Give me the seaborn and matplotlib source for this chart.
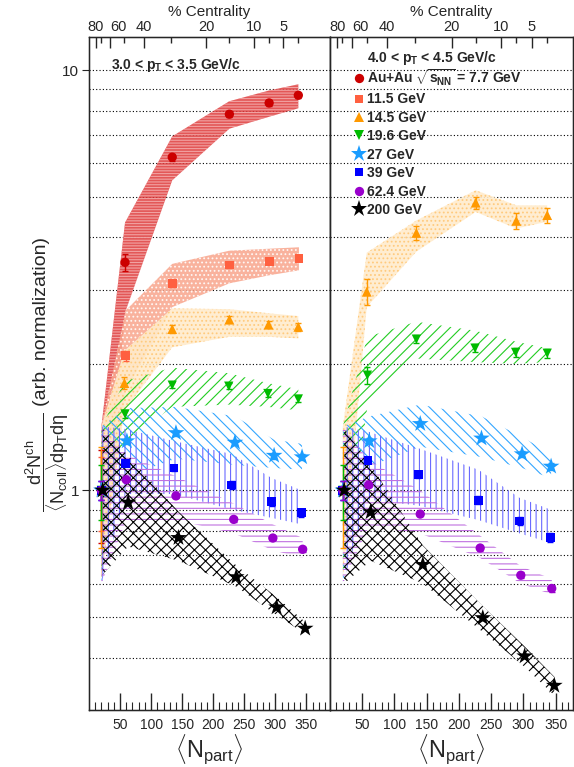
import numpy as np
import pandas as pd
import matplotlib.pyplot as plt
import seaborn as sns
from matplotlib.lines import Line2D
from matplotlib.ticker import NullFormatter, NullLocator

sns.set_style('ticks')
plt.rcParams['font.family'] = ['Liberation Sans', 'DejaVu Sans']
plt.rcParams['mathtext.fontset'] = 'custom'
plt.rcParams['mathtext.rm'] = 'Liberation Sans'
plt.rcParams['mathtext.it'] = 'Liberation Sans'
plt.rcParams['mathtext.bf'] = 'Liberation Sans:bold'
plt.rcParams['hatch.linewidth'] = 0.8

# energies (GeV) and <Npart> of the centrality bins
energies = ['7.7', '11.5', '14.5', '19.6', '27', '39', '62.4', '200']
npart = {
    '7.7':  [20, 58, 134, 226, 290, 337],
    '11.5': [20, 59, 134, 226, 290, 338],
    '14.5': [20, 57, 134, 226, 289, 337],
    '19.6': [20, 58, 134, 225, 288, 337],
    '27':   [20, 61, 140, 235, 298, 343],
    '39':   [20, 59, 137, 230, 294, 342],
    '62.4': [20, 60, 140, 233, 296, 344],
    '200':  [22, 63, 144, 237, 302, 348],
}

# left panel: 3.0 < pT < 3.5 GeV/c
left_val = {
    '7.7':  [1.0, 3.49, 6.21, 7.86, 8.36, 8.72],
    '11.5': [1.0, 2.09, 3.11, 3.44, 3.51, 3.57],
    '14.5': [1.0, 1.80, 2.42, 2.55, 2.48, 2.45],
    '19.6': [1.0, 1.52, 1.78, 1.77, 1.70, 1.65],
    '27':   [1.0, 1.31, 1.37, 1.30, 1.21, 1.20],
    '39':   [1.0, 1.16, 1.13, 1.03, 0.94, 0.885],
    '62.4': [1.0, 1.06, 0.97, 0.853, 0.77, 0.724],
    '200':  [1.0, 0.936, 0.771, 0.622, 0.527, 0.469],
}
left_lo = {
    '7.7':  [0.62, 2.65, 5.47, 7.26, 7.75, 8.12],
    '11.5': [0.62, 1.72, 2.73, 3.11, 3.25, 3.34],
    '14.5': [0.62, 1.55, 2.19, 2.32, 2.32, 2.30],
    '19.6': [0.62, 1.30, 1.58, 1.60, 1.58, 1.55],
    '27':   [0.60, 1.08, 1.19, 1.15, 1.13, 1.12],
    '39':   [0.60, 0.98, 0.98, 0.90, 0.86, 0.83],
    '62.4': [0.60, 0.85, 0.85, 0.79, 0.72, 0.69],
    '200':  [0.63, 0.735, 0.68, 0.59, 0.505, 0.455],
}
left_hi = {
    '7.7':  [1.42, 4.34, 6.96, 8.44, 8.95, 9.26],
    '11.5': [1.42, 2.68, 3.46, 3.72, 3.76, 3.79],
    '14.5': [1.42, 2.15, 2.71, 2.70, 2.64, 2.60],
    '19.6': [1.42, 1.82, 1.96, 1.90, 1.80, 1.74],
    '27':   [1.42, 1.57, 1.58, 1.50, 1.32, 1.29],
    '39':   [1.42, 1.40, 1.31, 1.22, 1.07, 1.00],
    '62.4': [1.42, 1.22, 1.08, 0.93, 0.83, 0.77],
    '200':  [1.40, 1.21, 0.89, 0.663, 0.557, 0.486],
}
left_err = {
    '7.7':  [0.25, 0.16, 0.12, 0.12, 0.12, 0.12],
    '11.5': [0.20, 0.06, 0.06, 0.05, 0.05, 0.05],
    '14.5': [0.27, 0.06, 0.05, 0.05, 0.05, 0.05],
    '19.6': [0.15, 0.03, 0.03, 0.03, 0.03, 0.03],
    '27':   [0.05, 0.02, 0.02, 0.02, 0.02, 0.02],
    '39':   [0.05, 0.02, 0.02, 0.02, 0.02, 0.02],
    '62.4': [0.05, 0.01, 0.01, 0.01, 0.01, 0.01],
    '200':  [0.02, 0.005, 0.005, 0.005, 0.005, 0.005],
}

# right panel: 4.0 < pT < 4.5 GeV/c
right_val = {
    '14.5': [1.0, 2.97, 4.10, 4.84, 4.38, 4.52],
    '19.6': [1.0, 1.88, 2.29, 2.18, 2.13, 2.12],
    '27':   [1.0, 1.31, 1.44, 1.33, 1.22, 1.14],
    '39':   [1.0, 1.18, 1.09, 0.947, 0.845, 0.772],
    '62.4': [1.0, 1.03, 0.878, 0.729, 0.628, 0.584],
    '200':  [1.0, 0.888, 0.665, 0.497, 0.403, 0.343],
}
right_lo = {
    '14.5': [0.62, 2.73, 3.70, 4.60, 4.20, 4.36],
    '19.6': [0.62, 1.58, 2.06, 2.02, 2.00, 2.02],
    '27':   [0.60, 1.14, 1.27, 1.20, 1.13, 1.07],
    '39':   [0.60, 0.95, 0.92, 0.85, 0.79, 0.75],
    '62.4': [0.60, 0.82, 0.79, 0.69, 0.60, 0.565],
    '200':  [0.60, 0.68, 0.60, 0.46, 0.38, 0.325],
}
right_hi = {
    '14.5': [1.42, 3.68, 4.39, 5.18, 4.77, 4.77],
    '19.6': [1.42, 2.32, 2.52, 2.40, 2.26, 2.18],
    '27':   [1.42, 1.50, 1.60, 1.50, 1.34, 1.22],
    '39':   [1.42, 1.38, 1.26, 1.12, 0.96, 0.90],
    '62.4': [1.42, 1.18, 1.00, 0.78, 0.66, 0.615],
    '200':  [1.40, 1.15, 0.74, 0.53, 0.425, 0.36],
}
right_err = {
    '14.5': [0.27, 0.21, 0.15, 0.16, 0.20, 0.18],
    '19.6': [0.15, 0.09, 0.05, 0.05, 0.05, 0.05],
    '27':   [0.05, 0.02, 0.02, 0.02, 0.02, 0.02],
    '39':   [0.05, 0.02, 0.02, 0.02, 0.02, 0.02],
    '62.4': [0.05, 0.01, 0.01, 0.01, 0.01, 0.01],
    '200':  [0.02, 0.005, 0.005, 0.005, 0.005, 0.005],
}

# top axis: % centrality at <Npart>
cent_major = [11, 34, 88, 189, 266, 313]
cent_labels = ['80', '60', '40', '20', '10', '5']
cent_minor = [19, 57, 132, 226, 289, 337]
grid_vals = [0.4, 0.5, 0.6, 0.7, 0.8, 0.9, 1, 2, 3, 4, 5, 6, 7, 8, 9, 10]

colors = {'7.7': '#cc0000', '11.5': '#ff6040', '14.5': '#ff9900', '19.6': '#00bb00',
          '27': '#1a9cff', '39': '#0000ff', '62.4': '#9900cc', '200': 'black'}
markers = {'7.7': 'o', '11.5': 's', '14.5': '^', '19.6': 'v',
           '27': '*', '39': 's', '62.4': 'o', '200': '*'}
sizes = {'7.7': 45, '11.5': 40, '14.5': 50, '19.6': 45,
         '27': 160, '39': 40, '62.4': 45, '200': 160}
bands = {
    '7.7':  dict(facecolor='#de3a3a', edgecolor='#f4b0b0', hatch='------', alpha=0.85),
    '11.5': dict(facecolor='#f8a58c', edgecolor='white', hatch='....', alpha=0.85),
    '14.5': dict(facecolor='#ffeccc', edgecolor='#ffc878', hatch='....', alpha=0.9),
    '19.6': dict(facecolor='none', edgecolor='#22cc22', hatch='///'),
    '27':   dict(facecolor='none', edgecolor='#33a6ff', hatch='\\\\\\'),
    '39':   dict(facecolor='none', edgecolor='#6a6aff', hatch='|||'),
    '62.4': dict(facecolor='none', edgecolor='#c070e0', hatch='---'),
    '200':  dict(facecolor='none', edgecolor='black', hatch='xxx'),
}

rows = []
for panel, vals, los, his, errs in [('left', left_val, left_lo, left_hi, left_err),
                                    ('right', right_val, right_lo, right_hi, right_err)]:
    for e in vals:
        for i, x in enumerate(npart[e]):
            rows.append(dict(panel=panel, energy=e, npart=x, val=vals[e][i],
                             lo=los[e][i], hi=his[e][i], err=errs[e][i]))
df = pd.DataFrame(rows)

fig = plt.figure(figsize=(5.74, 7.67), dpi=100)
ax1 = fig.add_axes([89 / 574, 57 / 767, 241 / 574, 673 / 767])
ax2 = fig.add_axes([330 / 574, 57 / 767, 243 / 574, 673 / 767])

for ax, panel, xmax in [(ax1, 'left', 388), (ax2, 'right', 377)]:
    d = df[df.panel == panel]
    present = [e for e in energies if e in d.energy.unique()]
    for e in present:
        de = d[d.energy == e]
        ax.fill_between(de.npart, de.lo, de.hi, lw=0, zorder=2, **bands[e])
        ax.errorbar(de.npart, de.val, yerr=de.err, fmt='none', ecolor=colors[e],
                    elinewidth=1, capsize=2, zorder=4)
    sns.scatterplot(data=d, x='npart', y='val', hue='energy', style='energy', size='energy',
                    hue_order=present, style_order=present, size_order=present,
                    palette=colors, markers=markers, sizes=sizes,
                    linewidth=0, legend=False, ax=ax, zorder=5)
    ax.set_yscale('log')
    ax.set_ylim(0.3, 12)
    ax.set_xlim(0, xmax)
    ax.set_xticks(range(50, 351, 50))
    ax.set_xticks(np.arange(10, xmax, 10), minor=True)
    ax.tick_params(axis='x', which='major', direction='in', length=12, width=1,
                   labelsize=10, pad=6, top=False)
    ax.tick_params(axis='x', which='minor', direction='in', length=6, width=0.8, top=False)
    ax.set_yticks(grid_vals, minor=True)
    ax.yaxis.set_minor_formatter(NullFormatter())
    ax.tick_params(axis='y', which='minor', length=0)
    ax.grid(axis='y', which='both', color='black', ls=(0, (1, 2)), lw=0.8)
    ax.set_axisbelow(True)
    ax.set_xlabel(r'$\langle\mathrm{N}_{\mathrm{part}}\rangle$', fontsize=17, labelpad=0)
    ax.set_ylabel('')
    for s in ax.spines.values():
        s.set_linewidth(1)
        s.set_color('black')

    top = ax.twiny()
    top.set_xlim(0, xmax)
    top.set_xticks(cent_major, cent_labels)
    top.set_xticks(cent_minor, minor=True)
    top.tick_params(axis='x', which='major', direction='in', length=8, width=1,
                    labelsize=10.5, pad=2)
    top.tick_params(axis='x', which='minor', direction='in', length=4, width=1)
    top.get_xticklabels()[0].set_horizontalalignment('center')
    top.get_xticklabels()[1].set_horizontalalignment('left')
    top.set_xlabel('% Centrality', fontsize=11, labelpad=3)

ax1.set_yticks([1, 10], ['1', '10'])
ax1.tick_params(axis='y', which='major', direction='out', length=5, labelsize=11, pad=2)
ax2.yaxis.set_major_locator(NullLocator())
ax2.yaxis.set_minor_formatter(NullFormatter())

ax1.text(0.092, 0.958, r'3.0 < p$_{\mathbf{T}}$ < 3.5 GeV/c', transform=ax1.transAxes,
         fontsize=10, fontweight='bold', va='center')
ax2.text(0.152, 0.969, r'4.0 < p$_{\mathbf{T}}$ < 4.5 GeV/c', transform=ax2.transAxes,
         fontsize=10, fontweight='bold', va='center')

labels = [r'Au+Au $\sqrt{\mathbf{s}_{\mathbf{NN}}}$ = 7.7 GeV'] + [e + ' GeV' for e in energies[1:]]
handles = [Line2D([], [], ls='none', marker=markers[e], color=colors[e],
                  markersize=np.sqrt(sizes[e]), markeredgewidth=0) for e in energies]
ax2.legend(handles, labels, loc='upper left', bbox_to_anchor=(0.1, 0.955), frameon=False,
           prop=dict(weight='bold', size=10), handlelength=0.7, handletextpad=0.25,
           labelspacing=0.32, borderpad=0, borderaxespad=0)

fig.text(47 / 574, 1 - 462 / 767,
         r'$\dfrac{\mathrm{d}^{2}\mathrm{N}^{\mathrm{ch}}}{\langle\mathrm{N}_{\mathrm{coll}}\rangle\mathrm{d}p_{\mathrm{T}}\mathrm{d}\eta}$',
         rotation=90, ha='center', va='center', fontsize=13)
fig.text(42 / 574, 1 - 322 / 767, '(arb. normalization)', rotation=90,
         ha='center', va='center', fontsize=14)

fig.savefig('out.png', dpi=100)
